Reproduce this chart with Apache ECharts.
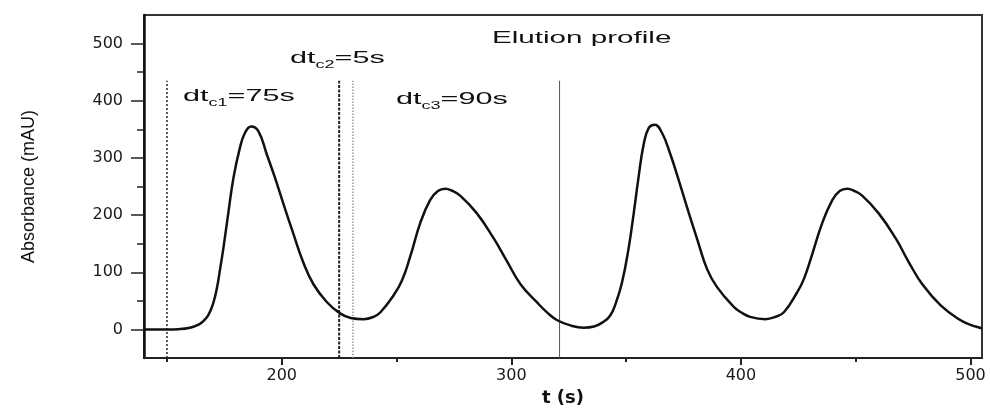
<!DOCTYPE html>
<html>
<head>
<meta charset="utf-8">
<script src="https://cdn.jsdelivr.net/npm/echarts@6/dist/echarts.min.js"></script>
<style>
  html, body { margin: 0; padding: 0; background: #fff; }
  #chart { width: 990px; height: 412px; }
</style>
</head>
<body>
<div id="chart"></div>
<script>
// ---- data ----
const tValues = [140, 145, 150, 155, 160, 164, 166, 168, 170, 171.7, 173, 174.5, 176.7, 179, 181.8, 184, 186.6, 189.8, 193.5, 197, 200.7, 205, 209.4, 213.8, 219.6, 225.4, 230, 235.6, 240, 243, 248.6, 252.3, 256, 260.3, 264.6, 268, 271.2, 274, 277.7, 285, 292.2, 298, 304, 311, 316, 320, 325.7, 331.5, 336, 340, 343, 345.5, 348.2, 351, 353.3, 355.4, 357.6, 359.8, 362.4, 365.6, 369.3, 373, 376.5, 381, 385.3, 389.6, 397, 400, 404, 410.7, 415, 418.7, 424.5, 427.4, 431, 435.4, 439.8, 443, 446.3, 449, 452.8, 460, 467.3, 473.2, 479, 487, 495.7, 500, 504, 505];
const absValues = [0, 0, 0, 0.5, 3, 9, 15, 25, 44, 71, 102, 140, 203, 266, 318, 344, 355, 347, 306, 266, 220, 168, 117, 79, 48, 28, 20, 18, 22, 30, 59, 85, 128, 186, 226, 242, 246, 243, 234, 203, 160, 120, 79, 48, 28, 16, 7, 3, 5, 13, 24, 46, 82, 140, 203, 266, 323, 352, 358, 344, 306, 260, 214, 157, 105, 74, 39, 30, 22, 18, 22, 30, 65, 88, 131, 186, 226, 242, 246, 243, 234, 203, 160, 117, 79, 42, 16, 8, 3, 2];
const markerTimes = [150, 225, 231, 321];
const markerRange = [-50, 435];
const xTickLabels = [200, 300, 400, 500];
const xMinorTicks = [150, 250, 350, 450];
const yTickLabels = [0, 100, 200, 300, 400, 500];
const yMinorTicks = [50, 150, 250, 350, 450];

const chart = echarts.init(document.getElementById('chart'), null, { renderer: 'canvas' });

const labelFont = { fontFamily: "'DejaVu Sans', sans-serif", fontSize: 16, color: '#1a1a1a' };
const markerStyles = [
  { type: [2, 2], width: 1.5, color: '#222' },
  { type: [3, 1.5], width: 2, color: '#222' },
  { type: [1.5, 1.5], width: 1.5, color: '#9a9a9a' },
  { type: 'solid', width: 1, color: '#555' }
];

const markerSeries = markerTimes.map((t, i) => ({
  type: 'line',
  xAxisIndex: 0,
  yAxisIndex: 0,
  symbol: 'none',
  silent: true,
  lineStyle: markerStyles[i],
  data: [[t, markerRange[0]], [t, markerRange[1]]],
  z: 2
}));

function subText(main, sub, rest) {
  return '{n|' + main + '}{s|' + sub + '}{n|' + rest + '}';
}
const richStyle = {
  n: { fontFamily: "'Liberation Sans', Arial, sans-serif", fontSize: 17, lineHeight: 24, verticalAlign: 'middle', fill: '#111' },
  s: { fontFamily: "'Liberation Sans', Arial, sans-serif", fontSize: 10, lineHeight: 10, verticalAlign: 'bottom', fill: '#111' }
};

const option = {
  animation: false,
  backgroundColor: '#fff',
  grid: { left: 144, right: 8, top: 15, bottom: 49, show: true, borderColor: '#333', borderWidth: 2, backgroundColor: 'transparent' },
  xAxis: [
    {
      type: 'value', min: 140, max: 505, position: 'bottom',
      name: 't (s)', nameLocation: 'middle', nameGap: 31,
      nameTextStyle: { fontFamily: "'DejaVu Sans', sans-serif", fontSize: 18, fontWeight: 'bold', color: '#111' },
      axisLine: { show: true, onZero: false, lineStyle: { color: '#222', width: 2 } },
      axisTick: { show: true, length: 7, customValues: xTickLabels, lineStyle: { color: '#222', width: 2 } },
      axisLabel: Object.assign({ margin: 10, customValues: xTickLabels }, labelFont),
      splitLine: { show: false }
    },
    {
      type: 'value', min: 140, max: 505, position: 'bottom',
      axisLine: { show: false, onZero: false },
      axisTick: { show: true, length: 4, customValues: xMinorTicks, lineStyle: { color: '#222', width: 2 } },
      axisLabel: { show: false },
      splitLine: { show: false }
    }
  ],
  yAxis: [
    {
      type: 'value', min: -50, max: 550, position: 'left',
      name: 'Absorbance (mAU)', nameLocation: 'middle', nameGap: 106,
      nameTextStyle: { fontFamily: "'Liberation Sans', Arial, sans-serif", fontSize: 18, color: '#111' },
      axisLine: { show: true, onZero: false, lineStyle: { color: '#111', width: 2.5 } },
      axisTick: { show: true, length: 13, customValues: yTickLabels, lineStyle: { color: '#222', width: 1.5 } },
      axisLabel: Object.assign({ margin: 21, customValues: yTickLabels }, labelFont),
      splitLine: { show: false }
    },
    {
      type: 'value', min: -50, max: 550, position: 'left',
      axisLine: { show: false, onZero: false },
      axisTick: { show: true, length: 7, customValues: yMinorTicks, lineStyle: { color: '#222', width: 1.5 } },
      axisLabel: { show: false },
      splitLine: { show: false }
    }
  ],
  graphic: [
    { type: 'text', x: 492, y: 39, scaleX: 1.85, silent: true,
      style: { text: 'Elution profile', fontFamily: "'Liberation Sans', Arial, sans-serif", fontSize: 16, fill: '#111', textAlign: 'left', textVerticalAlign: 'middle' } },
    { type: 'text', x: 183, y: 84.5, scaleX: 1.8, silent: true,
      style: { text: subText('dt', 'c1', '=75s'), rich: richStyle, textAlign: 'left', textVerticalAlign: 'top' } },
    { type: 'text', x: 290, y: 46, scaleX: 1.8, silent: true,
      style: { text: subText('dt', 'c2', '=5s'), rich: richStyle, textAlign: 'left', textVerticalAlign: 'top' } },
    { type: 'text', x: 396, y: 87.5, scaleX: 1.8, silent: true,
      style: { text: subText('dt', 'c3', '=90s'), rich: richStyle, textAlign: 'left', textVerticalAlign: 'top' } }
  ],
  series: markerSeries.concat([
    {
      type: 'line',
      xAxisIndex: 0,
      yAxisIndex: 0,
      symbol: 'none',
      smooth: 0.45,
      clip: true,
      lineStyle: { color: '#111', width: 2.5 },
      data: tValues.map((t, i) => [t, absValues[i]]),
      z: 3
    }
  ])
};

chart.setOption(option);
</script>
</body>
</html>
